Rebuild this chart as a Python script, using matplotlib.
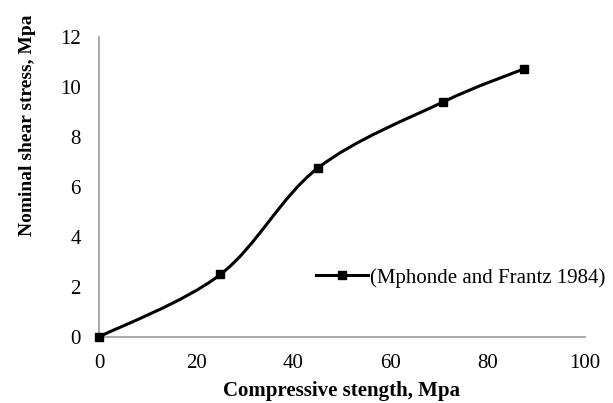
import matplotlib.pyplot as plt
import numpy as np
from matplotlib.path import Path
from matplotlib.patches import PathPatch
from matplotlib.lines import Line2D

plt.rcParams['font.family'] = ['Liberation Serif', 'DejaVu Serif']

# data
strength = [0, 25, 45, 70.8, 87.5]
stress = [0, 2.5, 6.75, 9.4, 10.73]
label = '(Mphonde and Frantz 1984)'

fig = plt.figure(figsize=(6.13, 4.03), dpi=100)
ax = fig.add_axes([0.1615, 0.164, 0.7925, 0.744])

# Excel-style smoothed line (Bezier through points)
x = np.array(strength, float)
y = np.array(stress, float)
pts = np.column_stack([x, y])
verts = [pts[0]]
codes = [Path.MOVETO]
n = len(pts)
for i in range(n - 1):
    p0 = pts[i - 1] if i > 0 else pts[i]
    p1 = pts[i]
    p2 = pts[i + 1]
    p3 = pts[i + 2] if i + 2 < n else pts[i + 1]
    c1 = p1 + (p2 - p0) / 6
    c2 = p2 - (p3 - p1) / 6
    verts += [c1, c2, p2]
    codes += [Path.CURVE4] * 3
ax.add_patch(PathPatch(Path(verts, codes), fill=False, lw=2.2, color='black', capstyle='round'))
ax.plot(strength, stress, ls='none', marker='s', ms=5.5, color='black', clip_on=False, zorder=5)

ax.set_xlim(0, 100)
ax.set_ylim(0, 12)
ax.set_xticks(range(0, 101, 20))
ax.set_yticks(range(0, 13, 2))
ax.tick_params(length=0, labelsize=15)
ax.tick_params(axis='y', pad=13)
ax.tick_params(axis='x', pad=12)
for s in ['top', 'right']:
    ax.spines[s].set_visible(False)
for s in ['left', 'bottom']:
    ax.spines[s].set_color('#999999')
    ax.spines[s].set_linewidth(1.2)

ax.set_xlabel('Compressive stength, Mpa', fontsize=15, fontweight='bold')
ax.xaxis.set_label_coords(0.5, -0.148)
ax.set_ylabel('Nominal shear stress, Mpa', fontsize=14, fontweight='bold')
ax.yaxis.set_label_coords(-0.13, 0.707)

handle = Line2D([], [], color='black', lw=2.2, marker='s', ms=5.5)
ax.legend([handle], [label], loc='center left', bbox_to_anchor=(0.43, 0.197),
          frameon=False, fontsize=15, handlelength=2.5, handletextpad=0.1,
          borderaxespad=0)

fig.savefig('out.png', dpi=100)
